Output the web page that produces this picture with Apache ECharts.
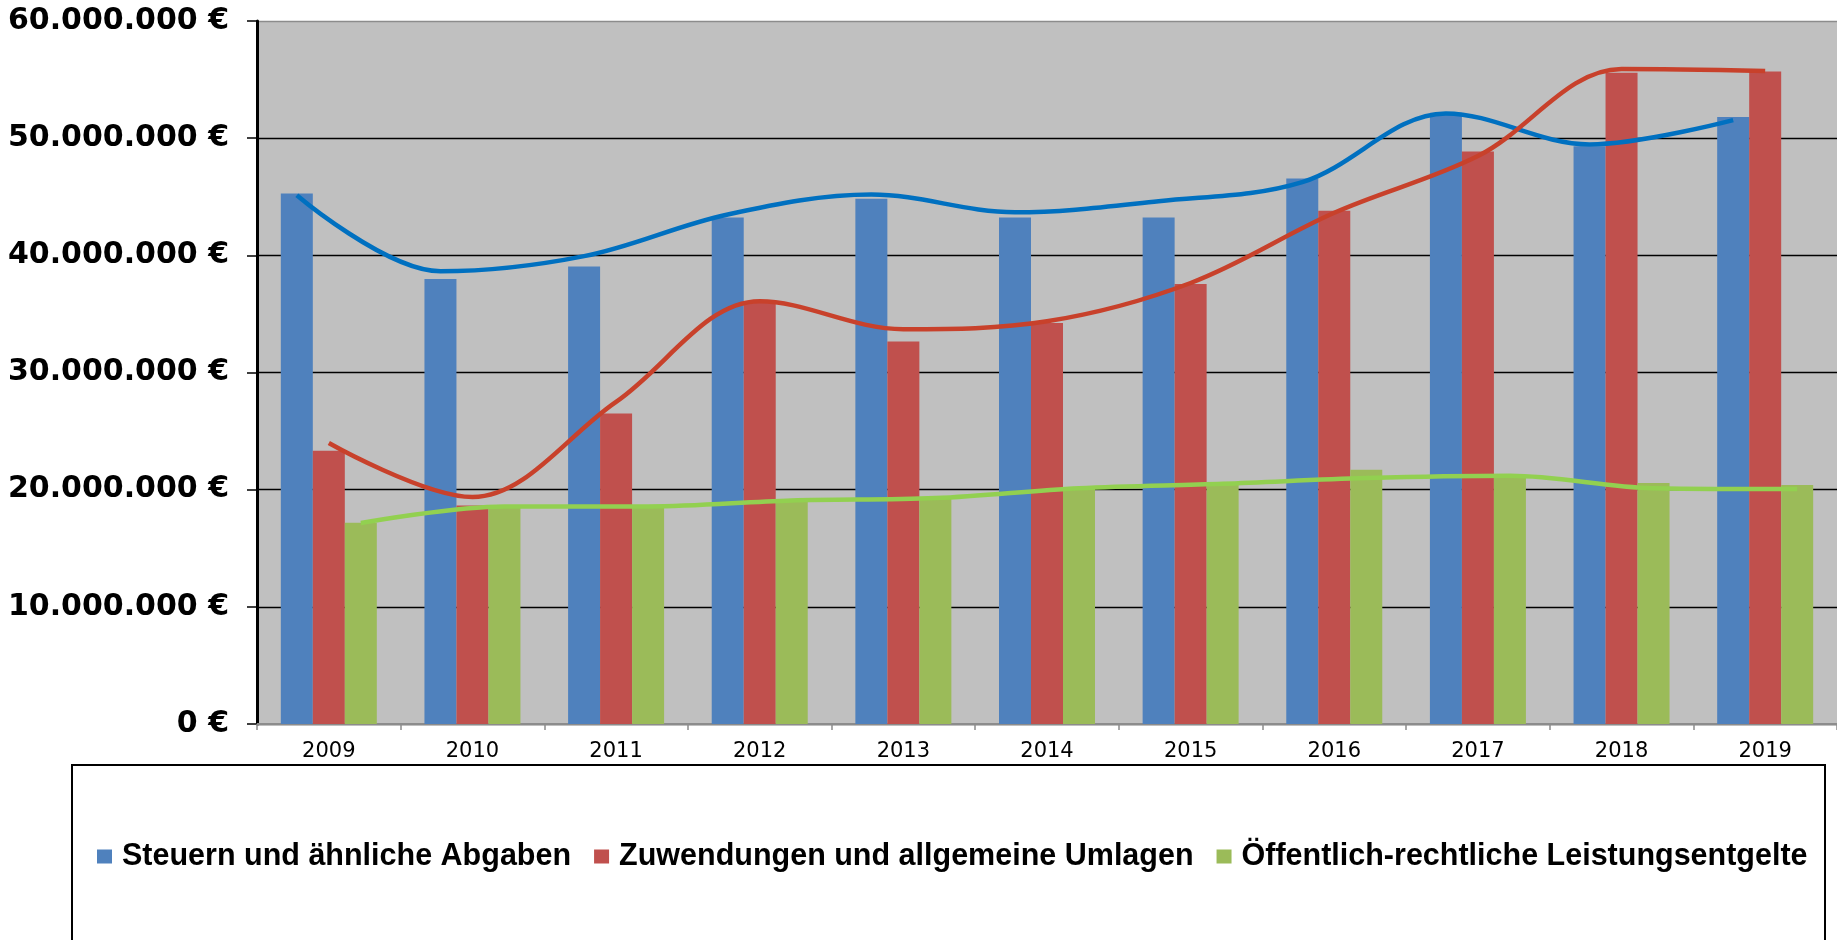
<!DOCTYPE html>
<html>
<head>
<meta charset="utf-8">
<script src="https://cdn.jsdelivr.net/npm/echarts@6/dist/echarts.min.js"></script>
<style>
  html, body { margin: 0; padding: 0; background: #fff; }
  #chart { width: 1837px; height: 940px; }
</style>
</head>
<body>
<div id="chart"></div>
<script>
// Jahre
var years = ['2009', '2010', '2011', '2012', '2013', '2014', '2015', '2016', '2017', '2018', '2019'];

// Balken (Euro)
var steuern     = [45280000, 37990000, 39040000, 43230000, 44830000, 43230000, 43230000, 46560000, 52170000, 49300000, 51800000];
var zuwendungen = [23320000, 18650000, 26510000, 36030000, 32640000, 34230000, 37560000, 43800000, 48870000, 55590000, 55700000];
var entgelte    = [17170000, 18600000, 18450000, 18990000, 19280000, 20130000, 20420000, 21700000, 21130000, 20560000, 20390000];

var steuernKurve     = [45130000, 38640000, 39930000, 43490000, 45190000, 43680000, 44620000, 46250000, 52110000, 49470000, 51540000];
var zuwendungenKurve = [23980000, 19370000, 27500000, 36080000, 33700000, 34370000, 37640000, 43630000, 48470000, 55900000, 55730000];
var entgelteKurve    = [17150000, 18570000, 18570000, 19080000, 19280000, 20130000, 20500000, 20990000, 21190000, 20130000, 20050000];

var names = ['Steuern und ähnliche Abgaben', 'Zuwendungen und allgemeine Umlagen', 'Öffentlich-rechtliche Leistungsentgelte'];
var barColors = ['#4f81bd', '#c0504d', '#9bbb59'];
var lineColors = ['#0070c0', '#c8412b', '#92d050'];

var yMin = 0, yMax = 60000000, yStep = 10000000;

var W = 1837, gridLeft = 257, gridRight = 0;
var barW = 32;
var catW = (W - gridLeft - gridRight) / years.length;

function euro(v) {
    return String(v).replace(/\B(?=(\d{3})+(?!\d))/g, '.') + ' €';
}

// Kurve auf die Mitte des k-ten Balkens legen
function kurve(arr, k) {
    var off = (k - 1) * barW / catW;
    return arr.map(function (v, i) { return [i + 0.5 + off, v]; });
}

var myChart = echarts.init(document.getElementById('chart'));

var bars = [steuern, zuwendungen, entgelte];
var kurven = [steuernKurve, zuwendungenKurve, entgelteKurve];
var series = [];
bars.forEach(function (d, k) {
    series.push({
        name: names[k],
        type: 'bar',
        data: d,
        barWidth: barW,
        barGap: '0%',
        itemStyle: { color: barColors[k] }
    });
});
kurven.forEach(function (d, k) {
    series.push({
        name: 'Kurve ' + (k + 1),
        type: 'line',
        xAxisIndex: 1,
        data: kurve(d, k),
        smooth: 0.35,
        symbol: 'none',
        z: 5,
        lineStyle: { color: lineColors[k], width: 4.5 }
    });
});

var option = {
    animation: false,
    backgroundColor: '#fff',
    grid: {
        left: gridLeft, right: gridRight, top: 21, bottom: 216,
        show: true, backgroundColor: '#c0c0c0', borderWidth: 0
    },
    legend: {
        data: names,
        left: 97,
        top: 841,
        width: 1740,
        padding: 0,
        icon: 'rect',
        itemWidth: 15,
        itemHeight: 14,
        itemGap: 23,
        selectedMode: false,
        textStyle: {
            fontFamily: 'Liberation Sans',
            fontWeight: 'bold',
            fontSize: 30.5,
            color: '#000',
            padding: [0, 0, 0, 5]
        }
    },
    graphic: [{
        type: 'rect',
        shape: { x: 72, y: 765, width: 1753, height: 220 },
        style: { fill: 'none', stroke: '#000', lineWidth: 2 },
        silent: true
    }],
    xAxis: [{
        type: 'category',
        data: years,
        axisLine: { lineStyle: { color: '#8c8c8c', width: 2 } },
        axisTick: { show: true, length: 6, lineStyle: { color: '#8c8c8c', width: 1.5 } },
        axisLabel: {
            margin: 17,
            fontFamily: 'DejaVu Sans',
            fontSize: 21,
            color: '#000'
        }
    }, {
        type: 'value',
        min: 0,
        max: years.length,
        show: false
    }],
    yAxis: {
        type: 'value',
        min: yMin,
        max: yMax,
        interval: yStep,
        axisLine: { show: true, lineStyle: { color: '#000', width: 3 } },
        axisTick: { show: true, length: 10, lineStyle: { color: '#000', width: 1.5 } },
        axisLabel: {
            margin: 28,
            formatter: euro,
            fontFamily: 'DejaVu Sans',
            fontWeight: 'bold',
            fontSize: 30,
            color: '#000'
        },
        splitLine: {
            show: true,
            lineStyle: { color: ['#000', '#000', '#000', '#000', '#000', '#000', '#8c8c8c'], width: 1.3 }
        }
    },
    series: series
};

myChart.setOption(option);
window.onresize = myChart.resize;
</script>
</body>
</html>
